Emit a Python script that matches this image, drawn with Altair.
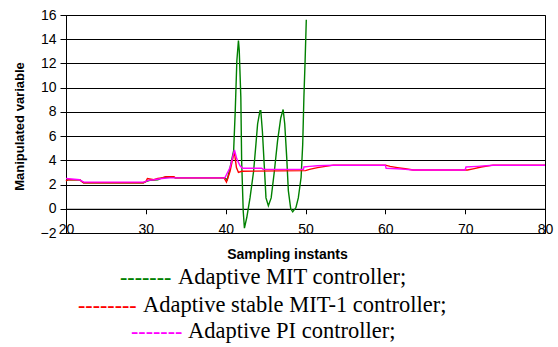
import altair as alt
import pandas as pd

# Controller outputs (manipulated variable) against sampling instants
mit_t = [20, 20.3, 21.7, 22.2, 29.7, 30.0, 30.5, 31.5, 32.0, 32.5, 33.5, 33.7, 39.9, 40.2,
         40.55, 41.0, 41.2, 41.4, 41.6, 41.7, 41.9, 42.0, 42.2, 42.35, 42.65, 43.05, 43.5,
         43.8, 44.0, 44.3, 44.4, 44.6, 44.85, 45.05, 45.35, 45.7, 46.1, 46.5, 46.9, 47.2,
         47.4, 47.65, 47.85, 48.15, 48.4, 48.8, 49.1, 49.45, 49.65, 49.8, 49.95, 50.1]
mit_u = [2.3, 2.4, 2.4, 2.15, 2.15, 2.25, 2.35, 2.4, 2.55, 2.6, 2.6, 2.55, 2.55, 2.4,
         3.4, 4.8, 8.1, 12.2, 13.9, 13.1, 9.2, 4.0, -0.2, -1.6, -0.7, 0.9, 3.1,
         5.4, 7.0, 8.1, 8.1, 6.4, 3.4, 0.9, 0.25, 0.9, 3.1, 5.6, 7.5, 8.2,
         7.0, 4.2, 1.5, 0.0, -0.25, 0.1, 0.9, 2.6, 5.3, 9.2, 12.2, 15.6]

mit1_t = [20, 20.3, 21.7, 22.2, 29.7, 30.0, 30.2, 31.0, 31.5, 32.0, 32.5, 33.5, 33.7, 39.8,
          40.1, 40.55, 41.0, 41.1, 41.35, 41.6, 42.0, 50.0, 50.5, 51.5, 52.5, 53.5, 60.0,
          60.6, 61.5, 62.5, 63.5, 70.0, 70.3, 71.0, 72.0, 73.5, 80]
mit1_u = [2.3, 2.4, 2.4, 2.15, 2.15, 2.25, 2.5, 2.4, 2.5, 2.55, 2.65, 2.65, 2.55, 2.55,
          2.2, 3.1, 4.5, 4.65, 3.4, 3.0, 3.1, 3.15, 3.25, 3.4, 3.5, 3.6, 3.6,
          3.5, 3.4, 3.3, 3.2, 3.2, 3.2, 3.3, 3.45, 3.6, 3.6]

pi_t = [20, 21.7, 22.2, 29.8, 30.3, 31.0, 32.0, 33.0, 39.9, 40.55, 41.1, 41.4, 41.8, 42.1,
        44.5, 44.7, 49.75, 49.8, 50.5, 51.5, 53.5, 60.0, 60.1, 61.5, 62.5, 63.5, 70.0,
        70.1, 71.5, 73.5, 80]
pi_u = [2.5, 2.4, 2.2, 2.2, 2.35, 2.4, 2.5, 2.55, 2.55, 3.4, 4.85, 4.1, 3.55, 3.35,
        3.35, 3.25, 3.25, 3.45, 3.5, 3.55, 3.6, 3.6, 3.35, 3.3, 3.25, 3.2, 3.2,
        3.45, 3.5, 3.6, 3.6]

series_names = ["Adaptive MIT controller;", "Adaptive stable MIT-1 controller;",
                "Adaptive PI controller;"]
legend_dashes = ["-------", "--------", "-------"]
series_colors = ["#008000", "#ff0000", "#ff00ff"]

x_ticks = [20, 30, 40, 50, 60, 70, 80]
y_ticks = [-2, 0, 2, 4, 6, 8, 10, 12, 14, 16]

W, H = 479, 218
Y_MIN, Y_MAX = -2, 16
zero_offset = H * (0 - Y_MIN) / (Y_MAX - Y_MIN)  # x axis crosses at 0

x_scale = alt.Scale(domain=[20, 80], nice=False, zero=False)
y_scale = alt.Scale(domain=[Y_MIN, Y_MAX], nice=False, zero=False)

x_axis = alt.Axis(
    values=x_ticks, grid=False, offset=-zero_offset,
    domainColor="black", domainWidth=1,
    tickColor="black", tickSize=5, tickWidth=1,
    labelFont="Liberation Sans", labelFontSize=14, labelColor="black",
    labelPadding=zero_offset - 5, labelBaseline="alphabetic", labelFlush=False,
    title="Sampling instants", titleFont="Liberation Sans", titleFontSize=14,
    titleFontWeight="bold", titleColor="black",
    titleX=221, titleY=46, titleBaseline="middle",
)
y_axis = alt.Axis(
    values=y_ticks, grid=True, gridColor="black", gridWidth=1,
    domainColor="black", domainWidth=1,
    tickColor="black", tickSize=6, tickWidth=1,
    labelFont="Liberation Sans", labelFontSize=14, labelColor="black",
    labelPadding=4, labelFlush=False,
    title="Manipulated variable", titleFont="Liberation Sans", titleFontSize=13,
    titleFontWeight="bold", titleColor="black",
    titleX=-47, titleY=111, titleAngle=270, titleBaseline="middle", titleAlign="center",
)


def series_line(t, u, color):
    df = pd.DataFrame({"t": t, "u": u})
    return alt.Chart(df).mark_line(color=color, strokeWidth=1.4).encode(
        x=alt.X("t:Q", scale=x_scale, axis=x_axis),
        y=alt.Y("u:Q", scale=y_scale, axis=y_axis),
    )


lines = [
    series_line(mit_t, mit_u, series_colors[0]),
    series_line(mit1_t, mit1_u, series_colors[1]),
    series_line(pi_t, pi_u, series_colors[2]),
]

# Legend below the chart: coloured hyphen run followed by the series name
legend_layout = [  # (dash x, text x, baseline y) in plot coordinates
    (54, 112, 269),
    (12, 77, 296.5),
    (65, 122, 323),
]
legend_layers = []
for name, dashes, color, (dx, tx, by) in zip(series_names, legend_dashes,
                                             series_colors, legend_layout):
    legend_layers.append(
        alt.Chart(pd.DataFrame({"s": [dashes]})).mark_text(
            align="left", baseline="alphabetic", font="Liberation Serif",
            fontSize=22, fontWeight="bold", color=color,
        ).encode(text="s:N", x=alt.value(dx), y=alt.value(by))
    )
    legend_layers.append(
        alt.Chart(pd.DataFrame({"s": [name]})).mark_text(
            align="left", baseline="alphabetic", font="Liberation Serif",
            fontSize=22.5, color="black",
        ).encode(text="s:N", x=alt.value(tx), y=alt.value(by))
    )

chart = alt.layer(*lines, *legend_layers).properties(
    width=W, height=H,
    autosize=alt.AutoSizeParams(type="none"),
    padding={"left": 66, "top": 15, "right": 13, "bottom": 114},
    background="white",
).configure_view(stroke="black", strokeWidth=1)

chart.save("out.html", embed_options={"renderer": "svg", "actions": False})
